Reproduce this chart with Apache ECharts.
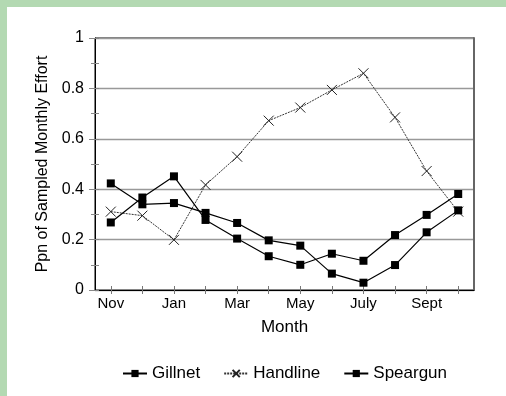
<!DOCTYPE html>
<html>
<head>
<meta charset="utf-8">
<script src="https://cdn.jsdelivr.net/npm/echarts@6/dist/echarts.min.js"></script>
<style>
html,body{margin:0;padding:0;width:506px;height:396px;background:#b3d9b2;overflow:hidden;}
#c{position:absolute;left:7px;top:7px;width:499px;height:389px;background:#fff;}
</style>
</head>
<body>
<div id="c"></div>
<script>
const months = ['Nov','Dec','Jan','Feb','Mar','Apr','May','Jun','July','Aug','Sept','Oct'];
const gillnet = [0.423, 0.340, 0.345, 0.306, 0.266, 0.197, 0.176, 0.065, 0.029, 0.099, 0.229, 0.316];
const handline = [0.311, 0.295, 0.199, 0.417, 0.529, 0.672, 0.724, 0.794, 0.860, 0.685, 0.472, 0.311];
const speargun = [0.268, 0.367, 0.451, 0.278, 0.204, 0.134, 0.100, 0.144, 0.116, 0.218, 0.298, 0.381];
const yTicks = [0, 0.2, 0.4, 0.6, 0.8, 1];

const FONT = '"Liberation Sans", Arial, sans-serif';
const chart = echarts.init(document.getElementById('c'), null, {renderer:'canvas'});
const xMark = 'path://M0,0L10,10M10,0L0,10';
chart.setOption({
  animation: false,
  textStyle: {fontFamily: FONT, color: '#000'},
  grid: {left: 88, right: 32, top: 31, bottom: 106, show: true, borderColor: '#000', borderWidth: 1, backgroundColor: 'transparent'},
  legend: {
    top: 353, left: 110, itemWidth: 24, itemHeight: 9, itemGap: 23,
    textStyle: {fontFamily: FONT, fontSize: 17, color: '#000'},
    data: ['Gillnet', 'Handline', 'Speargun']
  },
  xAxis: [{
    type: 'category', data: months, boundaryGap: true,
    name: 'Month', nameLocation: 'middle', nameGap: 29,
    nameTextStyle: {fontFamily: FONT, fontSize: 17, color: '#000'},
    axisLine: {lineStyle: {color: '#000', width: 1}},
    axisTick: {show: true, alignWithLabel: true, interval: 0, length: 4, lineStyle: {color: '#777'}},
    axisLabel: {interval: 1, margin: 6, fontFamily: FONT, fontSize: 15, color: '#000'},
    splitLine: {show: false}
  }, {
    type: 'category', data: months, boundaryGap: true, position: 'bottom',
    axisLine: {show: false},
    axisTick: {show: true, inside: true, alignWithLabel: true, interval: 0, length: 4, lineStyle: {color: '#777'}},
    axisLabel: {show: false}, splitLine: {show: false}
  }],
  yAxis: [{
    type: 'value', min: 0, max: 1, interval: 0.2,
    name: 'Ppn of Sampled Monthly Effort', nameLocation: 'middle', nameGap: 30,
    nameTextStyle: {fontFamily: FONT, fontSize: 16, color: '#000'},
    axisLine: {show: true, lineStyle: {color: '#000', width: 1}},
    axisTick: {show: true, length: 6, lineStyle: {color: '#888'}},
    minorTick: {show: true, splitNumber: 2, length: 4, lineStyle: {color: '#888'}},
    axisLabel: {margin: 11, fontFamily: FONT, fontSize: 16, color: '#000',
      formatter: function (v) { const t = yTicks.find(x => Math.abs(x - v) < 1e-6); return t === undefined ? '' : String(t); }},
    splitLine: {show: true, lineStyle: {color: '#999', width: 1.3}}
  }, {
    type: 'value', min: 0, max: 1, interval: 0.1, position: 'left',
    axisLine: {show: false},
    axisTick: {show: true, inside: true, length: 4, lineStyle: {color: '#888'}},
    axisLabel: {show: false}, splitLine: {show: false}
  }, {
    type: 'value', min: 0, max: 1, interval: 0.2, position: 'right',
    axisLine: {show: true, lineStyle: {color: '#666', width: 2}},
    axisTick: {show: false}, axisLabel: {show: false}, splitLine: {show: false}
  }],
  series: [{
    name: 'Handline', type: 'line', data: handline,
    symbol: xMark, symbolSize: 10, showSymbol: true,
    lineStyle: {color: '#333', width: 1, type: [2, 1]},
    itemStyle: {color: '#222', borderColor: '#222', borderWidth: 1},
    z: 3
  }, {
    name: 'Gillnet', type: 'line', data: gillnet,
    symbol: 'rect', symbolSize: 8, showSymbol: true,
    lineStyle: {color: '#000', width: 1.2},
    itemStyle: {color: '#000', borderWidth: 0},
    z: 4
  }, {
    name: 'Speargun', type: 'line', data: speargun,
    symbol: 'rect', symbolSize: 8, showSymbol: true,
    lineStyle: {color: '#000', width: 1.2},
    itemStyle: {color: '#000', borderWidth: 0},
    z: 4
  }]
});
</script>
</body>
</html>
